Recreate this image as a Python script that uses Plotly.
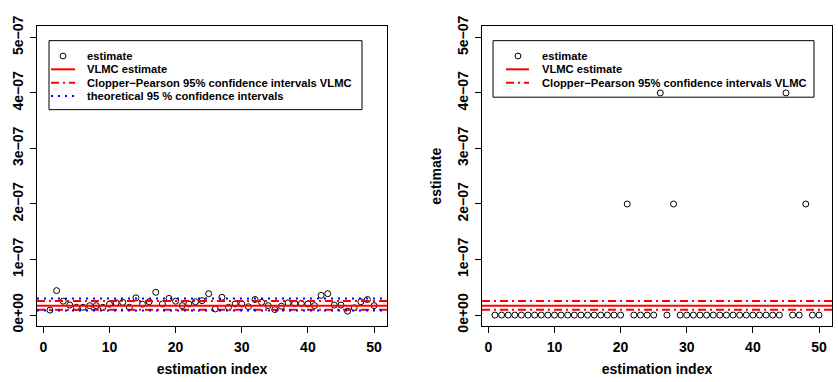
import plotly.graph_objects as go

# ---------------- data ----------------
index = list(range(1, 51))
estimate_left = [0.9e-8, 4.4e-8, 2.5e-8, 1.8e-8, 1.4e-8, 1.4e-8, 1.7e-8, 1.7e-8, 1.4e-8, 1.95e-8,
                 2.2e-8, 2.3e-8, 1.4e-8, 3.1e-8, 1.95e-8, 2.4e-8, 4.1e-8, 2.0e-8, 3.0e-8, 2.5e-8,
                 1.7e-8, 2.0e-8, 2.4e-8, 2.6e-8, 3.85e-8, 1.1e-8, 3.2e-8, 1.4e-8, 2.0e-8, 2.0e-8,
                 1.5e-8, 2.8e-8, 2.3e-8, 1.7e-8, 1.0e-8, 1.6e-8, 2.2e-8, 2.1e-8, 2.1e-8, 2.0e-8,
                 1.7e-8, 3.55e-8, 3.85e-8, 1.8e-8, 1.8e-8, 0.7e-8, 1.3e-8, 2.4e-8, 2.8e-8, 1.7e-8]
estimate_right = [0.0] * 50
for i, v in [(21, 2e-7), (26, 4e-7), (28, 2e-7), (45, 4e-7), (48, 2e-7)]:
    estimate_right[i - 1] = v

vlmc_estimate = 1.67e-8
cp_lower, cp_upper = 0.98e-8, 2.53e-8
theo_lower, theo_upper = 0.82e-8, 2.97e-8

x_ticks = [0, 10, 20, 30, 40, 50]
y_ticks = [0, 1e-7, 2e-7, 3e-7, 4e-7, 5e-7]
y_ticktext = ["0e+00", "1e\u221207", "2e\u221207", "3e\u221207", "4e\u221207", "5e\u221207"]

legend_left = ["estimate", "VLMC estimate", "Clopper\u2212Pearson 95% confidence intervals VLMC",
               "theoretical 95 % confidence intervals"]
legend_right = legend_left[:3]

# ---------------- figure ----------------
W, H = 838, 382
FONT = "Liberation Sans, Arial, sans-serif"


def px(x):
    return x / W


def py(y):
    return 1 - y / H


fig = go.Figure()
fig.add_trace(go.Scatter(x=index, y=estimate_left, mode="markers", xaxis="x", yaxis="y",
                         marker=dict(symbol="circle-open", size=6, color="black", line=dict(width=1)),
                         showlegend=False))
fig.add_trace(go.Scatter(x=index, y=estimate_right, mode="markers", xaxis="x2", yaxis="y2",
                         marker=dict(symbol="circle-open", size=6, color="black", line=dict(width=1)),
                         showlegend=False))

shapes = []
RED = "#FF0000"
BLUE = "#0000FF"
DASHDOT = "8px,4px,2px,4px"
DOT = "2px,5px"
for xr, yr, with_theo in [("x domain", "y", True), ("x2 domain", "y2", False)]:
    shapes.append(dict(type="line", xref=xr, yref=yr, x0=0, x1=1, y0=vlmc_estimate, y1=vlmc_estimate,
                       line=dict(color=RED, width=2)))
    for v in (cp_lower, cp_upper):
        shapes.append(dict(type="line", xref=xr, yref=yr, x0=0, x1=1, y0=v, y1=v,
                           line=dict(color=RED, width=2, dash=DASHDOT)))
    if with_theo:
        for v in (theo_lower, theo_upper):
            shapes.append(dict(type="line", xref=xr, yref=yr, x0=0, x1=1, y0=v, y1=v,
                               line=dict(color=BLUE, width=2, dash=DOT)))

annotations = []


def add_legend(box, labels, sym_x, line_x0, line_x1, text_x, row_y0, row_dy):
    x0, y0, x1, y1 = box
    shapes.append(dict(type="rect", xref="paper", yref="paper", x0=px(x0), x1=px(x1),
                       y0=py(y1), y1=py(y0), line=dict(color="black", width=1),
                       fillcolor="rgba(0,0,0,0)", layer="below"))
    for k, lab in enumerate(labels):
        yy = row_y0 + k * row_dy
        if k == 0:
            shapes.append(dict(type="circle", xref="paper", yref="paper",
                               x0=px(sym_x - 3), x1=px(sym_x + 3), y0=py(yy + 3), y1=py(yy - 3),
                               line=dict(color="black", width=1)))
        elif k == 1:
            shapes.append(dict(type="line", xref="paper", yref="paper", x0=px(line_x0), x1=px(line_x1),
                               y0=py(yy), y1=py(yy), line=dict(color=RED, width=2)))
        elif k == 2:
            shapes.append(dict(type="line", xref="paper", yref="paper", x0=px(line_x0), x1=px(line_x1),
                               y0=py(yy), y1=py(yy), line=dict(color=RED, width=2, dash=DASHDOT)))
        else:
            shapes.append(dict(type="line", xref="paper", yref="paper", x0=px(line_x0), x1=px(line_x1),
                               y0=py(yy), y1=py(yy), line=dict(color=BLUE, width=2, dash=DOT)))
        annotations.append(dict(xref="paper", yref="paper", x=px(text_x), y=py(yy), text=lab,
                                showarrow=False, xanchor="left", yanchor="middle",
                                font=dict(family=FONT, size=11.2, color="black", weight="bold")))


add_legend((49, 32, 362, 104), legend_left, 63, 51, 75, 85, 48, 13.9)
add_legend((493, 32, 814, 91), legend_right, 518, 506, 529, 540, 48, 13.9)

axis_common = dict(showgrid=False, zeroline=False, showline=True, linecolor="black", linewidth=1,
                   mirror=True, ticks="outside", ticklen=6, tickwidth=1, tickcolor="black",
                   tickfont=dict(family=FONT, size=14, color="black", weight="bold"))
xr = [-0.96, 51.96]
yr = [-2e-8, 5.2e-7]
ydom = [py(330), py(17)]
title_font = dict(family=FONT, size=14, color="black", weight="bold")

fig.update_layout(
    width=W, height=H, margin=dict(l=0, r=0, t=0, b=0),
    paper_bgcolor="white", plot_bgcolor="white", showlegend=False,
    xaxis=dict(domain=[px(37), px(387)], range=xr, tickvals=x_ticks, anchor="y", ticklabelstandoff=2,
               title=dict(text="estimation index", standoff=10, font=title_font),
               **axis_common),
    yaxis=dict(domain=ydom, range=yr, tickvals=y_ticks, ticktext=y_ticktext, tickangle=-90,
               anchor="x", ticklabelstandoff=1, **axis_common),
    xaxis2=dict(domain=[px(482), px(832)], range=xr, tickvals=x_ticks, anchor="y2", ticklabelstandoff=2,
                title=dict(text="estimation index", standoff=10, font=title_font),
                **axis_common),
    yaxis2=dict(domain=ydom, range=yr, tickvals=y_ticks, ticktext=y_ticktext, tickangle=-90,
                anchor="x2", ticklabelstandoff=1,
                title=dict(text="estimate", standoff=10, font=title_font),
                **axis_common),
    shapes=shapes, annotations=annotations,
)

fig.write_html("out.html")
